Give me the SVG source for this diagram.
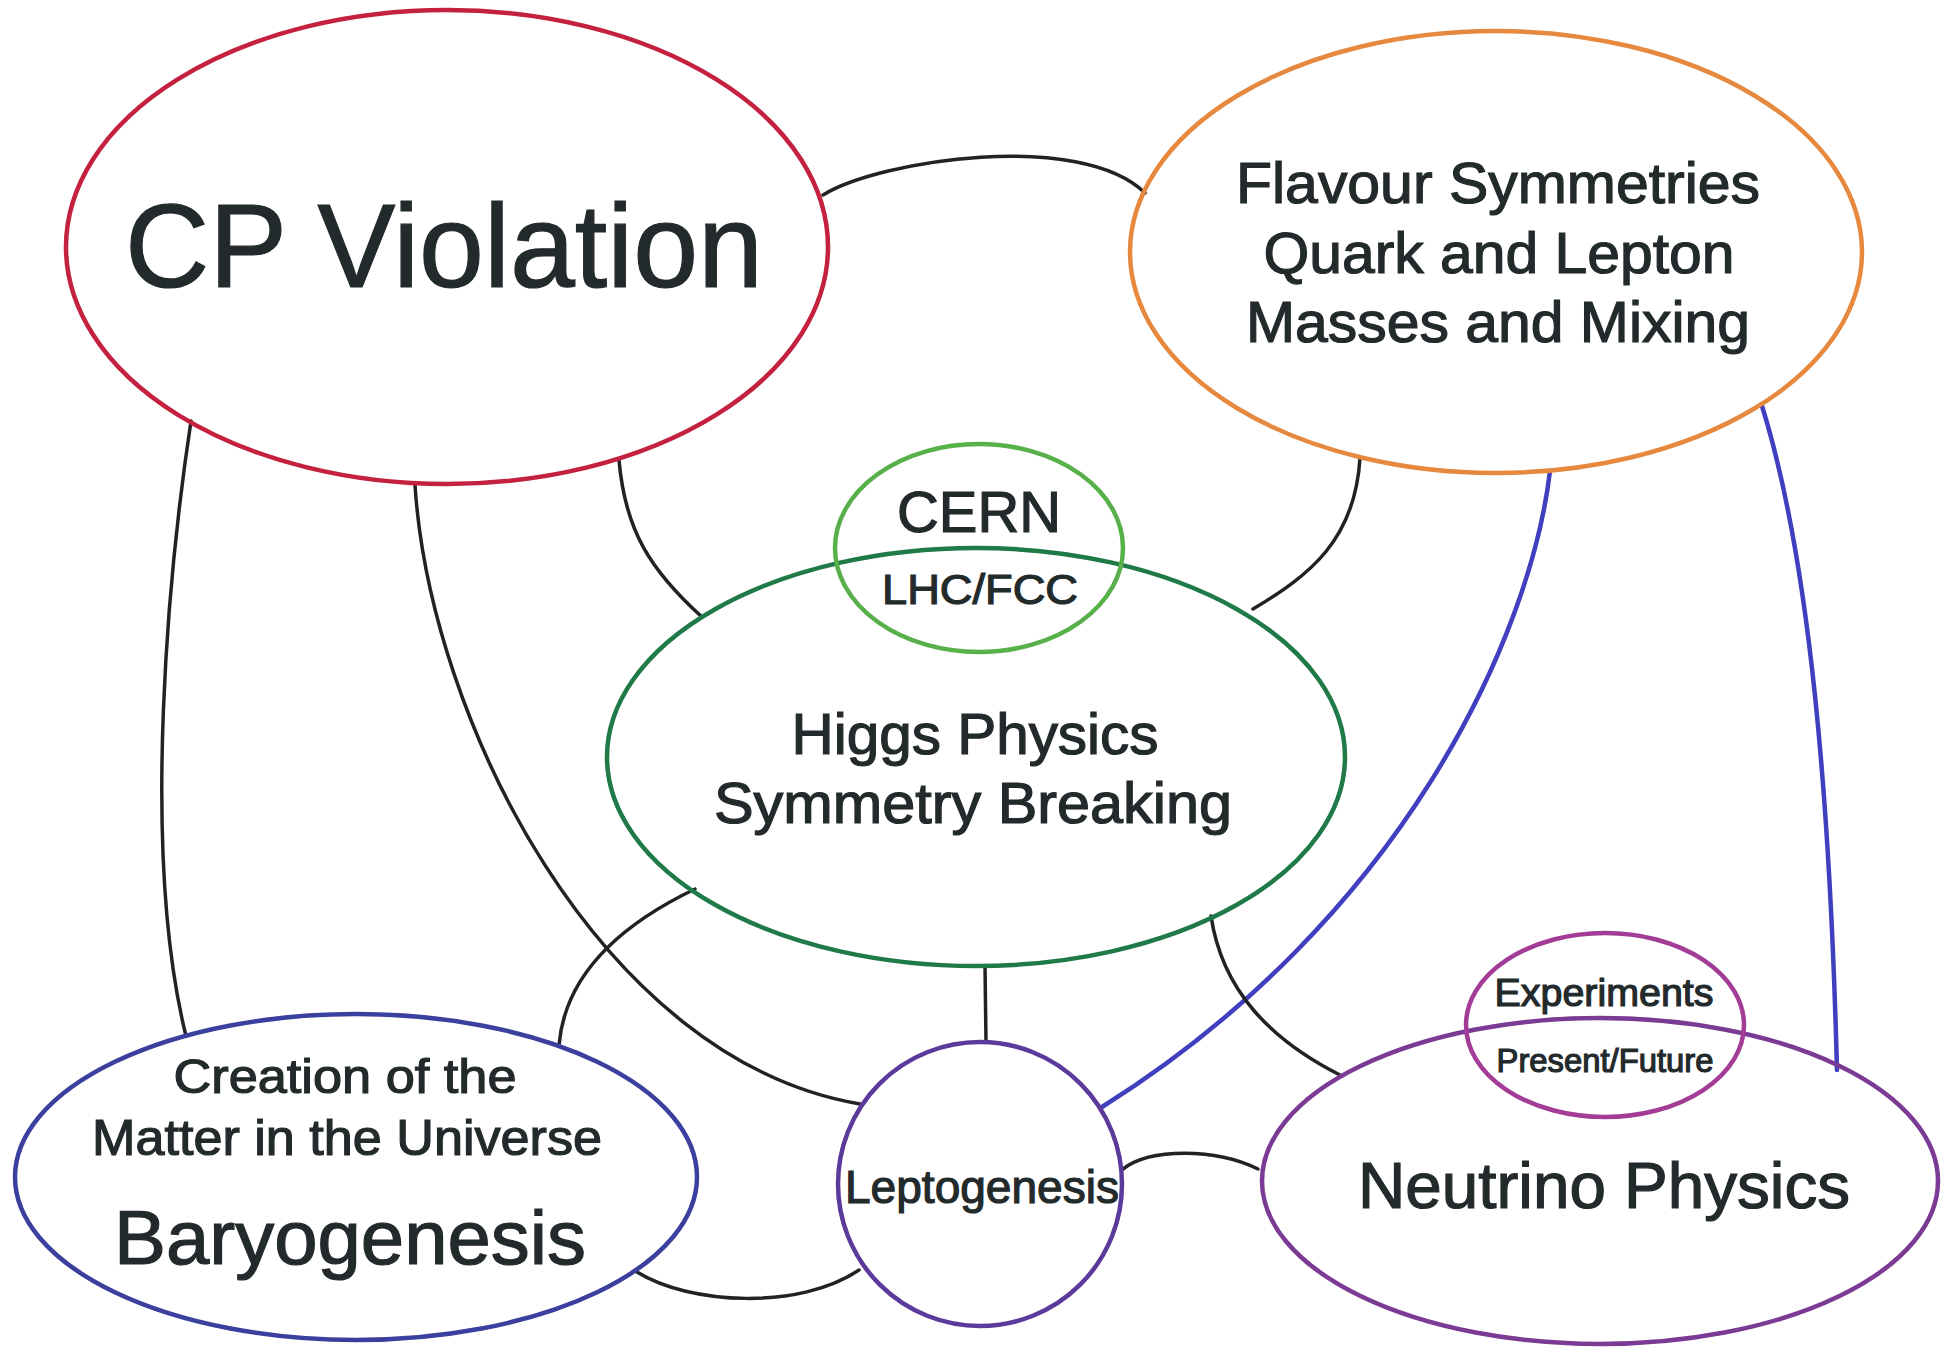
<svg xmlns="http://www.w3.org/2000/svg" width="1955" height="1352" viewBox="0 0 1955 1352">
<style>
.node{fill:none;stroke-width:4.5}
.t{font-family:"Liberation Sans",Arial,sans-serif;fill:#232a2b;stroke:#232a2b;stroke-width:1.2;text-anchor:middle}
.c{fill:none;stroke:#222;stroke-width:3.5;stroke-linecap:round}
.b{fill:none;stroke:#3f3fbf;stroke-width:4.5;stroke-linecap:round}
</style>
<rect width="1955" height="1352" fill="#fff"/>
<g id="connectors">
<path class="c" d="M823,195 C880,160 1080,130 1145,193"/>
<path class="c" d="M191,421 C170,560 140,850 186,1036"/>
<path class="c" d="M415,485 C430,720 600,1060 860,1104"/>
<path class="c" d="M619,460 C625,530 650,570 702,617"/>
<path class="c" d="M1360,458 C1355,540 1310,575 1253,609"/>
<path class="b" d="M1550,471 C1530,640 1400,920 1102,1107"/>
<path class="b" d="M1762,406 C1810,560 1830,800 1837,1070"/>
<path class="c" d="M695,889 C620,925 565,975 559,1045"/>
<path class="c" d="M985,966 L986,1042"/>
<path class="c" d="M1211,916 C1222,990 1270,1040 1342,1076"/>
<path class="c" d="M1123,1169 C1150,1148 1215,1148 1258,1169"/>
<path class="c" d="M637,1272 C690,1305 800,1310 859,1270"/>
</g>
<g id="cp-violation">
<ellipse class="node" cx="447" cy="247" rx="381" ry="237" stroke="#c4203f"/>
<text class="t" x="444" y="287" font-size="118" textLength="638" lengthAdjust="spacingAndGlyphs">CP Violation</text>
</g>
<g id="flavour">
<ellipse class="node" cx="1496" cy="252" rx="366" ry="221" stroke="#e6893e"/>
<text class="t" x="1498" y="203" font-size="58" textLength="524" lengthAdjust="spacingAndGlyphs">Flavour Symmetries</text>
<text class="t" x="1499" y="273" font-size="58" textLength="471" lengthAdjust="spacingAndGlyphs">Quark and Lepton</text>
<text class="t" x="1498" y="342" font-size="58" textLength="504" lengthAdjust="spacingAndGlyphs">Masses and Mixing</text>
</g>
<g id="higgs">
<ellipse class="node" cx="976" cy="757" rx="369" ry="209" stroke="#1f7a47"/>
<text class="t" x="975" y="754" font-size="57" textLength="367" lengthAdjust="spacingAndGlyphs">Higgs Physics</text>
<text class="t" x="973" y="823" font-size="57" textLength="518" lengthAdjust="spacingAndGlyphs">Symmetry Breaking</text>
</g>
<g id="cern">
<ellipse class="node" cx="979" cy="548" rx="144" ry="104" stroke="#58b04a"/>
<text class="t" x="979" y="532" font-size="57" textLength="164" lengthAdjust="spacingAndGlyphs">CERN</text>
<text class="t" x="980" y="604" font-size="42" textLength="196" lengthAdjust="spacingAndGlyphs">LHC/FCC</text>
</g>
<g id="baryogenesis">
<ellipse class="node" cx="356" cy="1177" rx="341" ry="163" stroke="#3b3f9e"/>
<text class="t" x="345" y="1093" font-size="48" textLength="343" lengthAdjust="spacingAndGlyphs">Creation of the</text>
<text class="t" x="347" y="1155" font-size="50" textLength="510" lengthAdjust="spacingAndGlyphs">Matter in the Universe</text>
<text class="t" x="350" y="1264" font-size="76" textLength="472" lengthAdjust="spacingAndGlyphs">Baryogenesis</text>
</g>
<g id="leptogenesis">
<ellipse class="node" cx="980" cy="1184" rx="142" ry="142" stroke="#5b3a9c"/>
<text class="t" x="982" y="1203" font-size="46" textLength="274" lengthAdjust="spacingAndGlyphs">Leptogenesis</text>
</g>
<g id="neutrino">
<ellipse class="node" cx="1600" cy="1181" rx="338" ry="163" stroke="#7b3b95"/>
<text class="t" x="1604" y="1208" font-size="64" textLength="492" lengthAdjust="spacingAndGlyphs">Neutrino Physics</text>
</g>
<g id="experiments">
<ellipse class="node" cx="1605" cy="1025" rx="139" ry="92" stroke="#a33c96"/>
<text class="t" x="1604" y="1006" font-size="39" textLength="219" lengthAdjust="spacingAndGlyphs">Experiments</text>
<text class="t" x="1605" y="1072" font-size="33" textLength="217" lengthAdjust="spacingAndGlyphs">Present/Future</text>
</g>
</svg>
